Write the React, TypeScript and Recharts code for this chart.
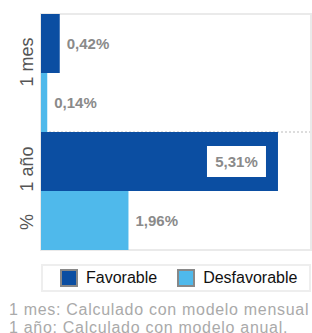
import { BarChart, Bar, XAxis, YAxis, CartesianGrid, Legend, LabelList, ReferenceArea } from 'recharts';

const categories = ['1 mes', '1 año'];
const favorable = [0.42, 5.31];
const desfavorable = [0.14, 1.96];
const seriesNames = ['Favorable', 'Desfavorable'];
const footnotes = ['1 mes: Calculado con modelo mensual', '1 año: Calculado con modelo anual.'];

const data = categories.map((name, i) => ({ name, favorable: favorable[i], desfavorable: desfavorable[i] }));

const COLORS = { fav: '#0b4ea2', desf: '#4fb9eb', label: '#8a8a8a', tick: '#555', border: '#eaeaea' };
const FONT = "'Liberation Sans', Arial, sans-serif";

const fmt = (v: number) => `${v.toFixed(2).replace('.', ',')}%`;

function BarLabel(props: any) {
  const { x, y, width, height, value } = props;
  const cy = y + height / 2;
  if (width > 150) {
    const bw = 59;
    const bx = x + width - 12 - bw;
    return (
      <g>
        <rect x={bx} y={cy - 15.5} width={bw} height={31} fill="#fff" />
        <text x={bx + bw / 2} y={cy} dy="0.36em" textAnchor="middle" fontSize={15} fontWeight="bold" fill={COLORS.label} fontFamily={FONT}>
          {fmt(value)}
        </text>
      </g>
    );
  }
  return (
    <text x={x + width + 7} y={cy} dy="0.36em" fontSize={15} fontWeight="bold" fill={COLORS.label} fontFamily={FONT}>
      {fmt(value)}
    </text>
  );
}

function CategoryTick(props: any) {
  const { y, payload, index } = props;
  const cy = y + (index === 0 ? -11 : -22);
  return (
    <text x={33} y={cy} transform={`rotate(-90, 33, ${cy})`} textAnchor="middle" fontSize={18} fill={COLORS.tick} fontFamily={FONT}>
      {payload.value}
    </text>
  );
}

function UnitLabel(props: any) {
  const { viewBox } = props;
  const cy = viewBox.y + viewBox.height - 28;
  return (
    <text x={33} y={cy} transform={`rotate(-90, 33, ${cy})`} textAnchor="middle" fontSize={18} fill={COLORS.tick} fontFamily={FONT}>
      %
    </text>
  );
}

function LegendBox() {
  const colors = [COLORS.fav, COLORS.desf];
  return (
    <div style={{ paddingTop: 14, paddingLeft: 41 }}>
      <div style={{ height: 24, border: `2px solid #eee`, display: 'flex', alignItems: 'center', fontFamily: FONT, fontSize: 16, color: '#111' }}>
        {seriesNames.map((n, i) => (
          <span key={n} style={{ display: 'flex', alignItems: 'center', marginLeft: i === 0 ? 17 : 20 }}>
            <span style={{ width: 14, height: 14, background: colors[i], border: '2px solid #888', marginRight: 8, display: 'inline-block' }} />
            {n}
          </span>
        ))}
      </div>
    </div>
  );
}

export default function App() {
  return (
    <div style={{ position: 'absolute', left: 0, top: 0, width: 312, height: 333, background: '#fff', overflow: 'hidden' }}>
      <BarChart
        width={312}
        height={292}
        data={data}
        layout="vertical"
        margin={{ top: 14, right: 1, bottom: 1, left: 0 }}
        barCategoryGap={0}
        barGap={0}
      >
        <ReferenceArea x1={0} x2={6.05} fill="none" stroke={COLORS.border} strokeWidth={2} ifOverflow="visible" />
        <CartesianGrid
          vertical={false}
          stroke="#bbb"
          strokeDasharray="2 2"
          horizontalCoordinatesGenerator={({ offset }: any) => [offset.top + offset.height / 2, offset.top + offset.height]}
        />
        <XAxis type="number" domain={[0, 6.05]} hide />
        <YAxis
          type="category"
          dataKey="name"
          width={41}
          axisLine={false}
          tickLine={false}
          tick={<CategoryTick />}
          label={<UnitLabel />}
        />
        <Bar dataKey="favorable" fill={COLORS.fav} isAnimationActive={false}>
          <LabelList dataKey="favorable" content={<BarLabel />} />
        </Bar>
        <Bar dataKey="desfavorable" fill={COLORS.desf} isAnimationActive={false}>
          <LabelList dataKey="desfavorable" content={<BarLabel />} />
        </Bar>
        <Legend verticalAlign="bottom" content={() => <LegendBox />} wrapperStyle={{ height: 41 }} />
      </BarChart>
      <div style={{ position: 'absolute', left: 9, top: 301, fontFamily: FONT, fontSize: 16, lineHeight: '17.5px', letterSpacing: '0.7px', color: '#aaa', whiteSpace: 'nowrap' }}>
        {footnotes.map((f) => (
          <div key={f}>{f}</div>
        ))}
      </div>
    </div>
  );
}
